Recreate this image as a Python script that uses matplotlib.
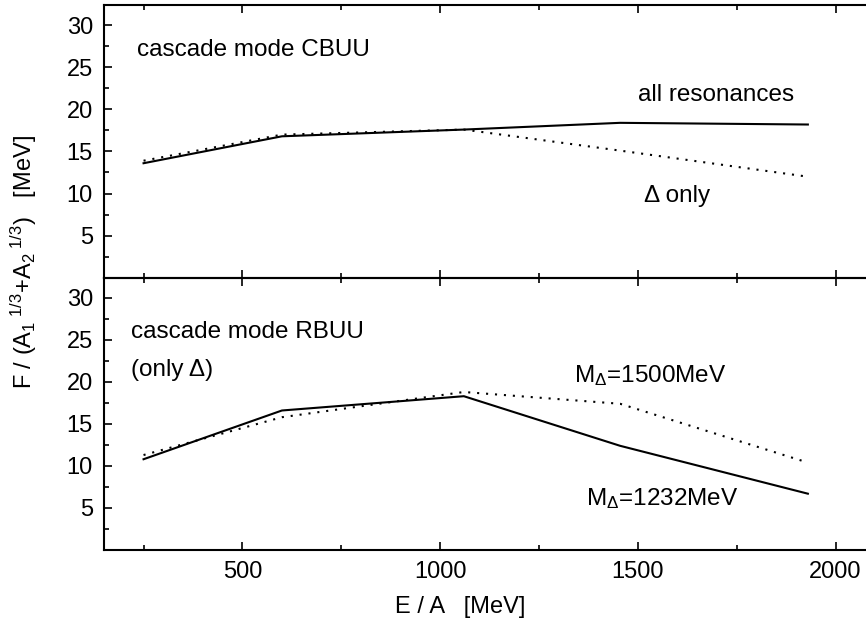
import matplotlib
matplotlib.use("Agg")
import matplotlib.pyplot as plt
from matplotlib.ticker import MultipleLocator

plt.rcParams['font.family'] = ['Liberation Sans', 'DejaVu Sans']
plt.rcParams['mathtext.fontset'] = 'custom'
plt.rcParams['mathtext.rm'] = 'Liberation Sans'
plt.rcParams['mathtext.it'] = 'Liberation Sans'
plt.rcParams['mathtext.bf'] = 'Liberation Sans:bold'

# Beam energy per nucleon (MeV)
energy = [250, 600, 1060, 1455, 1930]

# Upper panel: cascade mode CBUU
cbuu_all_res = [13.6, 16.8, 17.6, 18.4, 18.2]
cbuu_delta_only = [13.9, 17.0, 17.6, 15.1, 12.0]

# Lower panel: cascade mode RBUU (only Delta)
rbuu_m1232 = [10.8, 16.6, 18.3, 12.4, 6.7]
rbuu_m1500 = [11.3, 15.8, 18.8, 17.4, 10.4]

W, H = 866, 628
fig = plt.figure(figsize=(W / 100, H / 100), dpi=100)

left = 104 / W
top_px, mid_px, bot_px = 5, 277.7, 550
ax_top = fig.add_axes([left, 1 - mid_px / H, 1 - left, (mid_px - top_px) / H])
ax_bot = fig.add_axes([left, 1 - bot_px / H, 1 - left, (bot_px - mid_px) / H])

dot = (0, (1.0, 3.3))
FS = 17

for ax in (ax_top, ax_bot):
    ax.set_xlim(150, 2077)
    ax.set_ylim(0, 32.4)
    ax.xaxis.set_major_locator(MultipleLocator(500))
    ax.xaxis.set_minor_locator(MultipleLocator(250))
    ax.yaxis.set_major_locator(MultipleLocator(5))
    ax.yaxis.set_minor_locator(MultipleLocator(2.5))
    ax.tick_params(which='both', direction='in', top=True, bottom=True,
                   left=True, right=False, width=1.2, labelsize=FS)
    ax.tick_params(which='major', length=6)
    ax.tick_params(which='minor', length=3.6)
    ax.tick_params(axis='y', pad=8)
    ax.spines['right'].set_visible(False)
    for s in ('left', 'top', 'bottom'):
        ax.spines[s].set_linewidth(1.5)
    ax.set_yticks([5, 10, 15, 20, 25, 30])
    ax.set_yticklabels(['5', '10', '15', '20', '25', '30'])
    ax.patch.set_alpha(0)

ax_top.tick_params(axis='x', labelbottom=False)
ax_bot.tick_params(axis='x', pad=8)

ax_top.plot(energy, cbuu_all_res, color='black', lw=1.5)
ax_top.plot(energy, cbuu_delta_only, color='black', lw=1.5, linestyle=dot)

ax_bot.plot(energy, rbuu_m1232, color='black', lw=1.5)
ax_bot.plot(energy, rbuu_m1500, color='black', lw=1.5, linestyle=dot)

TS = 17.5
ax_top.text(233, 26.3, 'cascade mode CBUU', fontsize=TS, va='baseline')
ax_top.text(1500, 21.0, 'all resonances', fontsize=TS, va='baseline')
ax_top.text(1515, 9.0, '\u0394 only', fontsize=TS, va='baseline')

ax_bot.text(218, 25.2, 'cascade mode RBUU', fontsize=TS, va='baseline')
ax_bot.text(218, 20.7, '(only \u0394)', fontsize=TS, va='baseline')
ax_bot.text(1339, 20.0, r'M$_{\Delta}$=1500MeV', fontsize=TS, va='baseline')
ax_bot.text(1369, 5.4, r'M$_{\Delta}$=1232MeV', fontsize=TS, va='baseline')

fig.text(460 / W, 1 - 607 / H, 'E / A   [MeV]', fontsize=FS, ha='center', va='center')
fig.text(24 / W, 1 - 262 / H,
         r'F / (A$_1$$^{\ 1/3}$+A$_2$$^{\ 1/3}$)   [MeV]',
         fontsize=FS, rotation=90, ha='center', va='center')

fig.savefig('out.png', dpi=100)
